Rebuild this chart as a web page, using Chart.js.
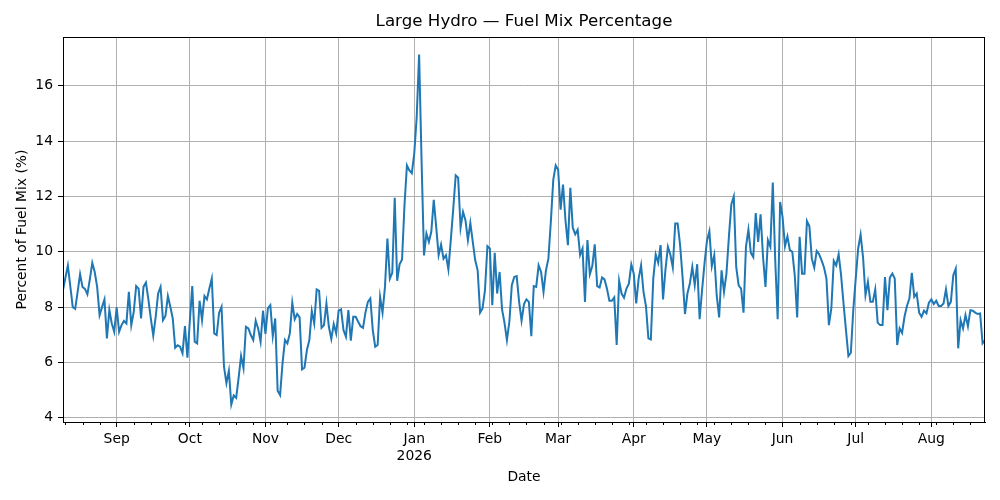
<!DOCTYPE html>
<html>
<head>
<meta charset="utf-8">
<script src="https://cdn.jsdelivr.net/npm/chart.js@4.4.1/dist/chart.umd.min.js"></script>
<style>
  body { margin: 0; background: #fff; }
</style>
</head>
<body>
<canvas id="myChart" width="1000" height="500"></canvas>
<script>
  // daily values, first day 2025-08-10
  var startDate = Date.UTC(2025, 7, 10);
  var fuelMix = [
    8.62,
    9.07, 9.5, 8.75, 8.0, 7.94, 8.55, 9.19, 8.73, 8.66, 8.46,
    9.0, 9.6, 9.27, 8.73, 7.71, 8.0, 8.28, 6.87, 7.9, 7.41,
    7.11, 7.99, 7.11, 7.35, 7.5, 7.41, 8.55, 7.35, 7.83, 8.76,
    8.67, 7.59, 8.73, 8.89, 8.28, 7.59, 6.97, 7.65, 8.49, 8.73,
    7.53, 7.68, 8.4, 8.01, 7.59, 6.53, 6.62, 6.57, 6.33, 7.31,
    6.17, 7.5, 8.76, 6.75, 6.69, 8.23, 7.53, 8.4, 8.28, 8.67,
    9.03, 7.05, 6.99, 7.8, 8.01, 5.85, 5.25, 5.7, 4.48, 4.81,
    4.72, 5.44, 6.23, 5.79, 7.29, 7.23, 6.99, 6.81, 7.51, 7.23,
    6.75, 7.87, 7.03, 7.95, 8.07, 6.95, 7.59, 4.98, 4.82, 5.97,
    6.81, 6.69, 7.05, 8.16, 7.56, 7.75, 7.63, 5.75, 5.81, 6.45,
    6.81, 7.86, 7.41, 8.64, 8.59, 7.25, 7.35, 8.13, 7.29, 6.85,
    7.39, 7.05, 7.87, 7.92, 7.17, 6.93, 7.89, 6.79, 7.65, 7.65,
    7.47, 7.31, 7.25, 7.8, 8.19, 8.31, 7.17, 6.57, 6.63, 8.37,
    7.8, 8.73, 10.48, 9.03, 9.24, 11.95, 8.95, 9.55, 9.72, 11.68,
    13.12, 12.94, 12.84, 13.54, 14.86, 17.13, 13.3, 9.87, 10.66, 10.36,
    10.72, 11.88, 10.9, 9.88, 10.26, 9.75, 9.88, 9.36, 10.44, 11.56,
    12.76, 12.68, 10.87, 11.44, 11.14, 10.42, 11.04, 10.36, 9.69, 9.33,
    7.8, 7.95, 8.61, 10.2, 10.12, 8.07, 9.96, 8.49, 9.27, 7.92,
    7.44, 6.81, 7.47, 8.79, 9.09, 9.12, 8.19, 7.51, 8.11, 8.28,
    8.19, 6.95, 8.76, 8.73, 9.51, 9.27, 8.55, 9.33, 9.75, 11.08,
    12.6, 13.12, 12.96, 11.52, 12.43, 11.14, 10.24, 12.31, 10.87, 10.63,
    10.8, 9.88, 10.12, 8.19, 10.42, 9.19, 9.48, 10.27, 8.76, 8.71,
    9.07, 9.0, 8.67, 8.23, 8.23, 8.35, 6.63, 8.95, 8.49, 8.34,
    8.67, 8.85, 9.54, 9.21, 8.13, 9.03, 9.51, 8.55, 8.04, 6.87,
    6.83, 9.03, 9.9, 9.6, 10.24, 8.28, 9.36, 10.18, 9.9, 9.43,
    11.02, 11.02, 10.24, 9.09, 7.75, 8.49, 8.85, 9.45, 8.79, 9.55,
    7.56, 8.61, 9.57, 10.39, 10.74, 9.48, 9.88, 8.43, 7.63, 9.33,
    8.55, 9.21, 10.54, 11.71, 12.0, 9.45, 8.79, 8.67, 7.8, 10.18,
    10.8, 9.96, 9.81, 11.4, 10.36, 11.35, 9.81, 8.73, 10.42, 10.18,
    12.5, 9.69, 7.56, 11.8, 11.26, 10.2, 10.56, 10.06, 10.0, 9.15,
    7.63, 10.54, 9.21, 9.21, 11.11, 10.92, 9.75, 9.43, 10.03, 9.91,
    9.69, 9.43, 9.03, 7.35, 7.95, 9.67, 9.51, 9.91, 9.15, 8.13,
    7.17, 6.23, 6.35, 7.89, 9.03, 10.12, 10.62, 9.81, 8.43, 8.91,
    8.19, 8.19, 8.64, 7.44, 7.35, 7.35, 9.09, 7.89, 9.07, 9.21,
    9.03, 6.63, 7.23, 7.07, 7.65, 8.04, 8.31, 9.24, 8.37, 8.49,
    7.8, 7.65, 7.87, 7.77, 8.16, 8.28, 8.11, 8.23, 8.04, 8.04,
    8.13, 8.64, 8.04, 8.19, 9.15, 9.39, 6.51, 7.53, 7.23, 7.71,
    7.31, 7.89, 7.87, 7.8, 7.75, 7.77, 6.69, 6.81
  ];
  var monthNames = ["Jan", "Feb", "Mar", "Apr", "May", "Jun",
                    "Jul", "Aug", "Sep", "Oct", "Nov", "Dec"];
  var yTicks = [4, 6, 8, 10, 12, 14, 16];

  // month starts get a label, mondays get a small tick
  var majorTicks = [];
  var majorLabels = {};
  var minorTicks = [];
  for (var i = 0; i < fuelMix.length; i++) {
    var d = new Date(startDate + i * 86400000);
    if (d.getUTCDate() === 1) {
      majorTicks.push(i);
      majorLabels[i] = d.getUTCMonth() === 0
        ? [monthNames[0], String(d.getUTCFullYear())]
        : monthNames[d.getUTCMonth()];
    } else if (d.getUTCDay() === 1) {
      minorTicks.push(i);
    }
  }

  var points = fuelMix.map(function (v, i) {
    return { x: i, y: v };
  });

  var lo = Math.min.apply(null, fuelMix);
  var hi = Math.max.apply(null, fuelMix);
  var pad = (hi - lo) * 0.05;

  var FONT = "'DejaVu Sans', sans-serif";
  var TITLE = "Large Hydro \u2014 Fuel Mix Percentage";

  var framePlugin = {
    id: "frame",
    afterDatasetsDraw: function (chart) {
      var a = chart.chartArea;
      var ctx = chart.ctx;
      var xs = chart.scales.x;
      ctx.save();
      ctx.strokeStyle = "#000";
      ctx.lineWidth = 1;
      ctx.strokeRect(a.left + 0.5, a.top + 0.5, a.right - a.left - 1, a.bottom - a.top);
      // weekly minor ticks
      ctx.beginPath();
      minorTicks.forEach(function (t) {
        var px = Math.round(xs.getPixelForValue(t)) + 0.5;
        ctx.moveTo(px, a.bottom);
        ctx.lineTo(px, a.bottom + 3);
      });
      ctx.stroke();
      // title centred over the axes
      ctx.fillStyle = "#000";
      ctx.font = "16.7px " + FONT;
      ctx.textAlign = "center";
      ctx.textBaseline = "middle";
      ctx.fillText(TITLE, (a.left + a.right) / 2, 22);
      ctx.restore();
    },
  };

  var ctx = document.getElementById("myChart").getContext("2d");
  var myChart = new Chart(ctx, {
    type: "line",
    data: {
      datasets: [
        {
          data: points,
          borderColor: "#1f77b4",
          borderWidth: 2,
          pointRadius: 0,
          tension: 0,
          fill: false,
        },
      ],
    },
    options: {
      responsive: false,
      animation: false,
      devicePixelRatio: 1,
      layout: { padding: { top: 37, right: 15, left: 0, bottom: 0 } },
      plugins: {
        legend: { display: false },
        tooltip: { enabled: false },
        title: { display: false },
      },
      scales: {
        x: {
          type: "linear",
          min: 0,
          max: fuelMix.length - 1,
          afterBuildTicks: function (scale) {
            scale.ticks = majorTicks.map(function (t) {
              return { value: t };
            });
          },
          afterFit: function (scale) {
            scale.height = 78;
          },
          ticks: {
            autoSkip: false,
            maxRotation: 0,
            padding: 4,
            color: "#000",
            font: { family: FONT, size: 13.9 },
            callback: function (value) {
              return majorLabels[value] || "";
            },
          },
          grid: {
            color: "#b0b0b0",
            lineWidth: 1,
            tickColor: "#000",
            tickLength: 5,
          },
          border: { color: "#000", width: 1 },
          title: {
            display: true,
            text: "Date",
            color: "#000",
            font: { family: FONT, size: 13.9 },
            padding: { top: 0, bottom: 14.7 },
          },
        },
        y: {
          min: lo - pad,
          max: hi + pad,
          afterBuildTicks: function (scale) {
            scale.ticks = yTicks.map(function (v) {
              return { value: v };
            });
          },
          afterFit: function (scale) {
            scale.width = 63;
          },
          ticks: {
            padding: 5,
            color: "#000",
            font: { family: FONT, size: 13.9 },
          },
          grid: {
            color: "#b0b0b0",
            lineWidth: 1,
            tickColor: "#000",
            tickLength: 5,
          },
          border: { color: "#000", width: 1 },
          title: {
            display: true,
            text: "Percent of Fuel Mix (%)",
            color: "#000",
            font: { family: FONT, size: 13.9 },
            padding: { top: 13.7, bottom: 0 },
          },
        },
      },
    },
    plugins: [framePlugin],
  });
</script>
</body>
</html>
